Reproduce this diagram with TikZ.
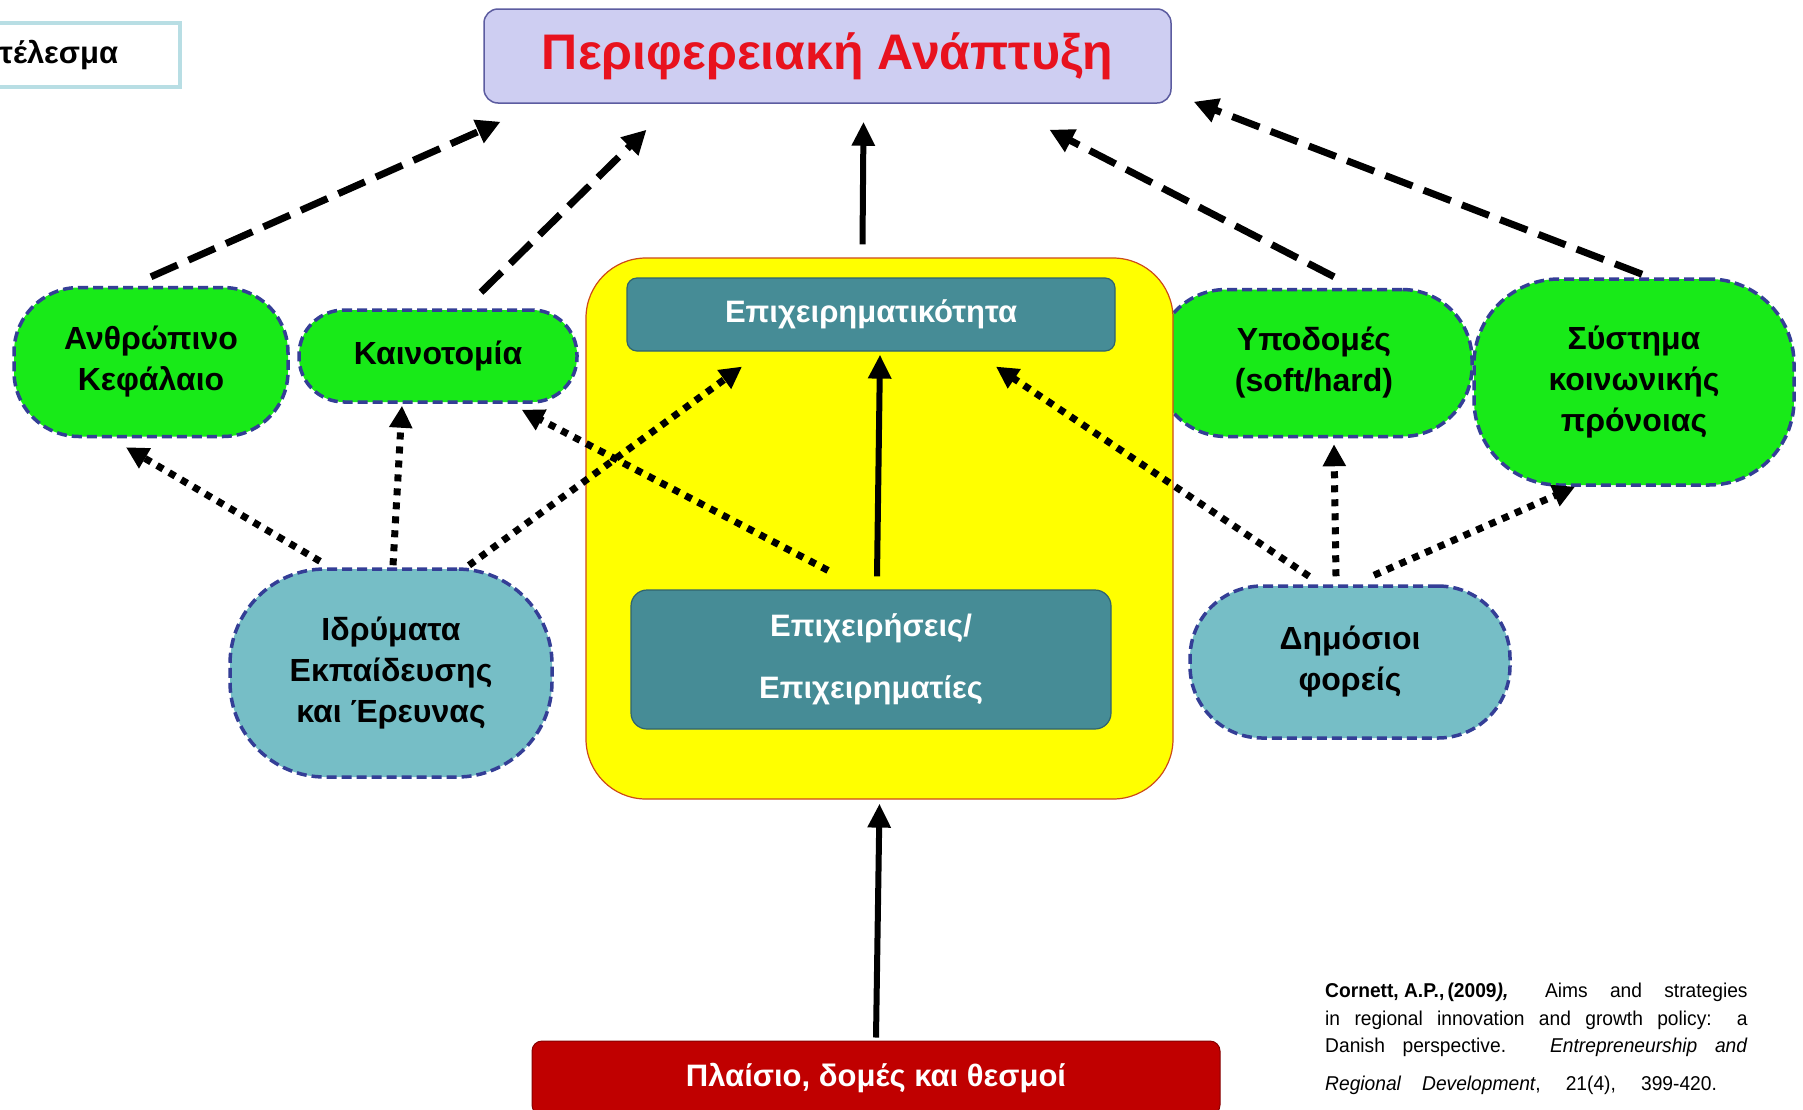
\documentclass[tikz,border=0pt]{standalone}
\usepackage{fontspec}
\setmainfont{Liberation Sans}
\usetikzlibrary{arrows.meta}

\definecolor{greenfill}{RGB}{24,234,24}
\definecolor{dashblue}{RGB}{52,62,150}
\definecolor{lightteal}{RGB}{118,190,198}
\definecolor{darkteal}{RGB}{70,140,150}
\definecolor{tealline}{RGB}{48,100,110}
\definecolor{coreyellow}{RGB}{255,255,0}
\definecolor{coreline}{RGB}{205,75,25}
\definecolor{titlefill}{RGB}{206,206,242}
\definecolor{titleline}{RGB}{92,92,160}
\definecolor{titlered}{RGB}{232,18,30}
\definecolor{framered}{RGB}{192,0,0}
\definecolor{outline}{RGB}{184,222,228}

\newcommand{\refline}[2]{\scalebox{0.96}[1]{\makebox[#1][s]{#2}}}

\begin{document}
\begin{tikzpicture}[x=1pt,y=-1pt,
  greenbox/.style={draw=dashblue, fill=greenfill, line width=3.5pt, dash pattern=on 10pt off 5pt,
    inner sep=0pt, align=center, font=\fontsize{32}{41}\selectfont\bfseries},
  actorbox/.style={greenbox, fill=lightteal},
  tealbox/.style={draw=tealline, fill=darkteal, line width=1.2pt, inner sep=0pt, align=center,
    text=white, font=\fontsize{31}{62}\selectfont\bfseries},
  dasharrow/.style={line width=7pt, dash pattern=on 29pt off 12pt, -{Triangle[length=24pt,width=24pt]}},
  dotarrow/.style={line width=7pt, dash pattern=on 7pt off 7pt, -{Triangle[length=22pt,width=22pt]}},
  solidarrow/.style={line width=6pt, -{Triangle[length=24pt,width=22pt]}}]

\useasboundingbox (0,0) rectangle (1803,1109);
\fill[white] (0,0) rectangle (1803,1109);

\node (outcome) at (60,55) [draw=outline, line width=4pt, minimum width=240pt, minimum height=64pt] {};
\node (outtext) at (-1,55) [anchor=west, inner sep=0pt, font=\fontsize{31}{38}\selectfont\bfseries] {τέλεσμα};

\node (title) at (827.5,56) [draw=titleline, fill=titlefill, line width=1.5pt, rounded corners=14pt,
  minimum width=687pt, minimum height=94pt, text=titlered, font=\fontsize{50}{60}\selectfont\bfseries] {Περιφερειακή Ανάπτυξη};

\node (hc) at (151,362) [greenbox, rounded corners=65pt, minimum width=274pt, minimum height=149pt] {Ανθρώπινο\\Κεφάλαιο};
\node (innov) at (438,356) [greenbox, rounded corners=45pt, minimum width=278pt, minimum height=92pt] {Καινοτομία};
\node (infra) at (1314,363) [greenbox, rounded corners=70pt, minimum width=316pt, minimum height=147pt] {Υποδομές\\(soft/hard)};
\node (welfare) at (1634,382) [greenbox, rounded corners=85pt, minimum width=320pt, minimum height=206pt] {Σύστημα\\κοινωνικής\\πρόνοιας};

\node (edu) at (391,673) [actorbox, rounded corners=95pt, minimum width=322pt, minimum height=208pt] {Ιδρύματα\\Εκπαίδευσης\\και Έρευνας};
\node (public) at (1350,662) [actorbox, rounded corners=72pt, minimum width=320pt, minimum height=152pt] {Δημόσιοι\\φορείς};

\node (core) at (879.5,528.5) [draw=coreline, fill=coreyellow, line width=1.2pt, rounded corners=60pt,
  minimum width=587pt, minimum height=541pt] {};
\node (entr) at (871,314.5) [tealbox, rounded corners=10pt, minimum width=488pt, minimum height=73pt] {Επιχειρηματικότητα};
\node (firms) at (871,659.5) [tealbox, rounded corners=16pt, minimum width=480pt, minimum height=139pt] {Επιχειρήσεις/\\Επιχειρηματίες};

\node (frame) at (876,1078) [fill=framered, draw=framered!70!black, line width=1pt, rounded corners=10pt,
  minimum width=688pt, minimum height=74pt, text=white, font=\fontsize{31}{38}\selectfont\bfseries] {\raisebox{3pt}{Πλαίσιο, δομές και θεσμοί}};

\node (cite) at (1325,983) [anchor=north west, inner sep=0pt, align=left, font=\fontsize{20}{27.5}\selectfont]
  {\refline{440pt}{\textbf{Cornett,~A.P.,\,(2009\textit{),}}\hfill\makebox[211pt][s]{Aims and strategies}}\\
   \refline{440pt}{in regional innovation and growth policy: a}\\
   \refline{440pt}{Danish perspective. \textit{Entrepreneurship and}}\\[10pt]
   \refline{408pt}{\textit{Regional Development}, 21(4), 399-420.}};

\draw[dasharrow] ([yshift=9pt]hc.north) -- ([xshift=-327pt,yshift=-18pt]title.south);
\draw[dasharrow] ([xshift=43pt,yshift=16pt]innov.north) -- ([xshift=-181pt,yshift=-26pt]title.south);
\draw[solidarrow] ([xshift=-17pt,yshift=13pt]core.north) -- ([xshift=36pt,yshift=-18pt]title.south);
\draw[dasharrow] ([xshift=20pt,yshift=11pt]infra.north) -- ([xshift=222pt,yshift=-26pt]title.south);
\draw[dasharrow] ([xshift=8pt,yshift=3pt]welfare.north) -- ([xshift=22pt,yshift=2pt]title.south east);

\draw[dotarrow] ([xshift=-71pt,yshift=6pt]edu.north) -- ([xshift=-25pt,yshift=-9pt]hc.south);
\draw[dotarrow] ([xshift=2pt,yshift=2pt]edu.north) -- ([xshift=-36pt,yshift=-2pt]innov.south);
\draw[dotarrow] ([xshift=78pt,yshift=2pt]edu.north) -- ([xshift=-129pt,yshift=-15pt]entr.south);
\draw[dotarrow] ([xshift=-43pt,yshift=19pt]firms.north) -- ([xshift=-57pt,yshift=-6pt]innov.south east);
\draw[solidarrow] ([xshift=6pt,yshift=13pt]firms.north) -- ([xshift=9pt,yshift=-3pt]entr.south);
\draw[dotarrow] ([xshift=-41pt,yshift=8pt]public.north) -- ([xshift=125pt,yshift=-15pt]entr.south);
\draw[dotarrow] ([xshift=-14pt,yshift=8pt]public.north) -- ([xshift=20pt,yshift=-6pt]infra.south);
\draw[dotarrow] ([xshift=24pt,yshift=9pt]public.north) -- ([xshift=-59pt]welfare.south);

\draw[solidarrow] ([yshift=3pt]frame.north) -- ([yshift=-4pt]core.south);

\end{tikzpicture}
\end{document}
